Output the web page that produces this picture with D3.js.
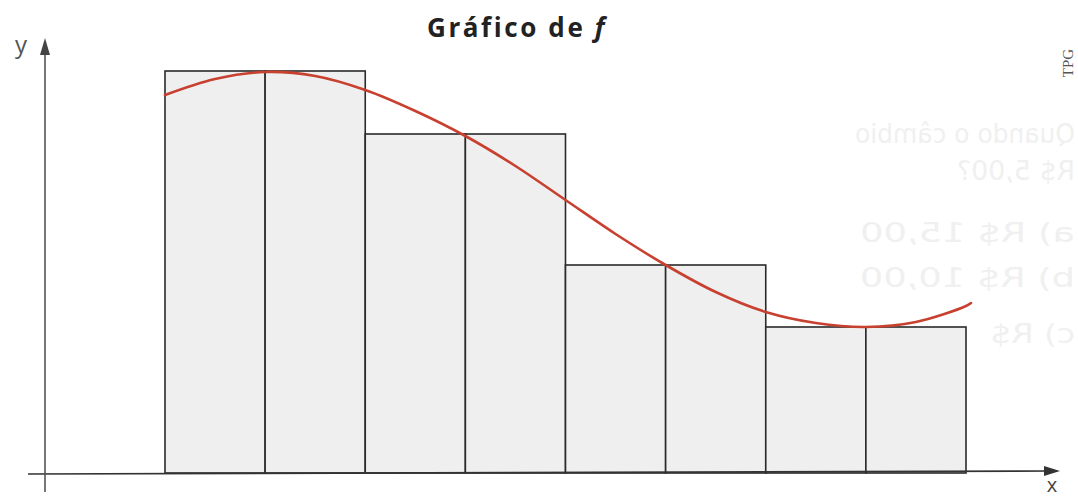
<!DOCTYPE html>
<html>
<head>
<meta charset="utf-8">
<script src="https://cdn.jsdelivr.net/npm/d3@7"></script>
<style>
  html, body { margin: 0; padding: 0; background: #fff; }
  svg { display: block; }
</style>
</head>
<body>
<svg id="chart" width="1078" height="498"></svg>
<script>
// ---- data ----
const barStarts = [0, 1, 2, 3, 4, 5, 6, 7];
const barHeights = [4.02, 4.02, 3.39, 3.39, 2.08, 2.08, 1.46, 1.46];
const curveX = [0, 0.5, 1, 1.5, 2, 2.5, 3, 3.5, 4, 4.5, 5, 5.5, 6, 6.5, 7, 7.5, 8, 8.05];
const curveY = [3.78, 3.94, 4.01, 3.97, 3.83, 3.62, 3.37, 3.07, 2.73, 2.39, 2.08, 1.81, 1.61, 1.50, 1.46, 1.51, 1.67, 1.70];
const titleText = "Gráfico de ";
const titleVar = "f";
const axisLabels = ["x", "y"];
const creditText = "TPG";
const bleedLines = ["Quando o câmbio", "R$ 5,00?", "a) R$ 15,00", "b) R$ 10,00", "c) R$"];

// ---- scales ----
const svg = d3.select("#chart");
const x = d3.scaleLinear().domain([0, 8]).range([165, 966]);
const y = d3.scaleLinear().domain([0, 4]).range([473, 73]);

// faint bleed-through text from the reverse page (mirrored)
const bleed = svg.append("g").attr("fill", "#f0f0f0")
  .attr("font-family", "DejaVu Sans, sans-serif").attr("font-size", 27);
const bleedBox = [[855, 1075, 143], [957, 1075, 180], [860, 1075, 242], [860, 1075, 287], [990, 1075, 343]];
bleedLines.forEach((t, i) => {
  const [x0, x1, by] = bleedBox[i];
  bleed.append("text")
    .attr("transform", `translate(${x1},${by}) scale(-1,1)`)
    .attr("textLength", x1 - x0)
    .attr("lengthAdjust", "spacingAndGlyphs")
    .text(t);
});

// bars
svg.append("g").selectAll("rect")
  .data(barStarts)
  .join("rect")
  .attr("x", d => x(d))
  .attr("y", (d, i) => y(barHeights[i]))
  .attr("width", d => x(d + 1) - x(d))
  .attr("height", (d, i) => y(0) - y(barHeights[i]))
  .attr("fill", "#efefef")
  .attr("stroke", "#2a2a2a")
  .attr("stroke-width", 1.6);

// axes
const axisColor = "#333";
svg.append("line")
  .attr("x1", 28).attr("y1", y(0) + 1)
  .attr("x2", 1050).attr("y2", y(0) - 2)
  .attr("stroke", axisColor).attr("stroke-width", 1.6);
svg.append("path")
  .attr("d", `M1060,${y(0) - 2} L1044,${y(0) - 7} L1044,${y(0) + 3} Z`)
  .attr("fill", axisColor);
svg.append("line")
  .attr("x1", 45).attr("y1", 492)
  .attr("x2", 45).attr("y2", 52)
  .attr("stroke", "#555").attr("stroke-width", 1.6);
svg.append("path")
  .attr("d", "M45,38 L40,55 L50,55 Z")
  .attr("fill", "#444");

// curve
const line = d3.line()
  .x(d => x(d[0]))
  .y(d => y(d[1]))
  .curve(d3.curveCatmullRom.alpha(0.5));
svg.append("path")
  .datum(curveX.map((v, i) => [v, curveY[i]]))
  .attr("d", line)
  .attr("fill", "none")
  .attr("stroke", "#c8402f")
  .attr("stroke-width", 2.6)
  .attr("stroke-linecap", "round");

// title
const title = svg.append("text")
  .attr("x", 517).attr("y", 37)
  .attr("text-anchor", "middle")
  .attr("font-family", "Open Sans, sans-serif")
  .attr("font-weight", "bold")
  .attr("font-size", 26)
  .attr("letter-spacing", 2.6)
  .attr("fill", "#222");
title.append("tspan").text(titleText);
title.append("tspan").attr("font-style", "italic").text(titleVar);

// axis labels
svg.append("text")
  .attr("x", 1052).attr("y", 492)
  .attr("text-anchor", "middle")
  .attr("font-family", "Open Sans, sans-serif")
  .attr("font-size", 20)
  .attr("fill", "#444")
  .text(axisLabels[0]);
svg.append("text")
  .attr("x", 21).attr("y", 53)
  .attr("text-anchor", "middle")
  .attr("font-family", "Open Sans, sans-serif")
  .attr("font-size", 24)
  .attr("fill", "#555")
  .text(axisLabels[1]);

// credit
svg.append("text")
  .attr("transform", "translate(1073,63) rotate(-90)")
  .attr("text-anchor", "middle")
  .attr("font-family", "Liberation Serif, serif")
  .attr("font-size", 15)
  .attr("fill", "#555")
  .text(creditText);
</script>
</body>
</html>
